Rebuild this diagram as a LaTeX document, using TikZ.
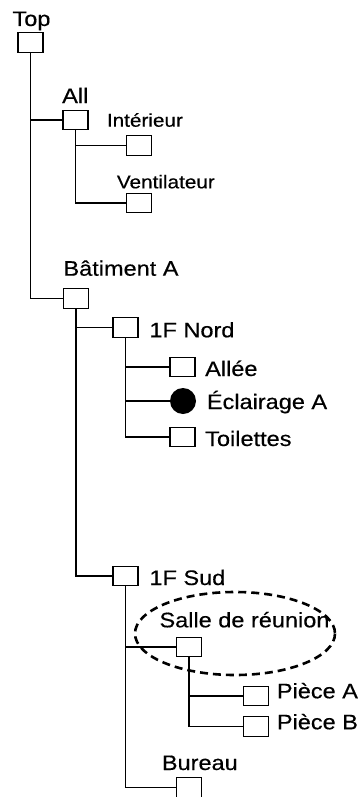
\documentclass[tikz,border=0pt]{standalone}
\usepackage{fontspec}
\setmainfont[FakeStretch=1.12,FakeBold=0.4]{Liberation Sans}
\begin{document}
\begin{tikzpicture}[x=1pt,y=-1pt,
  bx/.style={draw,line width=1.4pt,minimum width=25pt,minimum height=19.5pt,inner sep=0pt},
  dot/.style={circle,fill=black,minimum size=26pt,inner sep=0pt},
  lbl/.style={anchor=base west,inner sep=0pt,font=\fontsize{21}{24}\selectfont},
  slbl/.style={anchor=base west,inner sep=0pt,font=\fontsize{18.5}{22}\selectfont},
  link/.style={line width=1.4pt},
  grp/.style={line width=2.6pt,dash pattern=on 8pt off 5pt}]
\useasboundingbox (0,0) rectangle (360,797);
\clip (0,0) rectangle (360,796.3);
% boxes
\node[bx] (top) at (30.5,42.5) {};
\node[bx] (all) at (75.5,120) {};
\node[bx] (int) at (139,145.5) {};
\node[bx] (ven) at (139,203) {};
\node[bx] (bat) at (76,298.5) {};
\node[bx] (nord) at (125.5,327.5) {};
\node[bx] (allee) at (182.5,367) {};
\node[dot] (ecl) at (183,401) {};
\node[bx] (toil) at (182.5,437) {};
\node[bx] (sud) at (125.5,576) {};
\node[bx] (salle) at (189,647) {};
\node[bx] (pa) at (256,696) {};
\node[bx] (pb) at (256,726.5) {};
\node[bx] (bur) at (189,787.5) {};
% labels
\node[lbl] (ltop) at (12.3,26) {Top};
\node[lbl] (lall) at (62,103) {All};
\node[slbl] (lint) at (106.7,126.7) {Intérieur};
\node[slbl] (lven) at (116.7,188.3) {Ventilateur};
\node[lbl] (lbat) at (63.3,275.7) {Bâtiment A};
\node[lbl] (lnord) at (149.3,337.3) {1F Nord};
\node[lbl] (lallee) at (205,376) {Allée};
\node[lbl] (lecl) at (206.7,409) {Éclairage A};
\node[lbl] (ltoil) at (205,446) {Toilettes};
\node[lbl] (lsud) at (149.3,585) {1F Sud};
\node[lbl] (lsalle) at (159.3,627.3) {Salle de réunion};
\node[lbl] (lpa) at (276.7,698.3) {Pièce A};
\node[lbl] (lpb) at (276.7,729.3) {Pièce B};
\node[lbl] (lbur) at (161.7,770) {Bureau};
% group ellipse
\draw[grp] (235,633.5) ellipse [x radius=100, y radius=41.5];
% connectors
\draw[link] (top.south) |- (all.west);
\draw[link] (top.south) |- (bat.west);
\draw[link] (all.south) |- (int.west);
\draw[link] (all.south) |- (ven.west);
\draw[link] (bat.south) |- (nord.west);
\draw[link] (bat.south) |- (sud.west);
\draw[link] (nord.south) |- (allee.west);
\draw[link] (nord.south) |- (ecl.west);
\draw[link] (nord.south) |- (toil.west);
\draw[link] (sud.south) |- (salle.west);
\draw[link] (sud.south) |- (bur.west);
\draw[link] (salle.south) |- (pa.west);
\draw[link] (salle.south) |- (pb.west);
\end{tikzpicture}
\end{document}
